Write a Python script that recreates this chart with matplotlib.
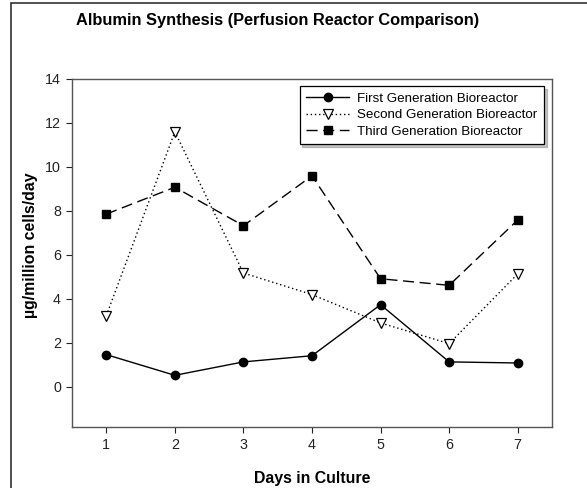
import matplotlib
matplotlib.use('Agg')
import matplotlib.pyplot as plt
from matplotlib.patches import Rectangle

plt.rcParams['font.family'] = ['Liberation Sans', 'DejaVu Sans']

days = [1, 2, 3, 4, 5, 6, 7]
first_gen = [1.47, 0.53, 1.14, 1.42, 3.74, 1.14, 1.09]
second_gen = [3.24, 11.6, 5.18, 4.2, 2.91, 1.97, 5.14]
third_gen = [7.86, 9.08, 7.33, 9.60, 4.92, 4.62, 7.59]
yticks = [0, 2, 4, 6, 8, 10, 12, 14]

fig = plt.figure(figsize=(5.87, 4.88), dpi=100)
ax = fig.add_axes([72/587, 1-427/488, 480/587, 348/488])

# outer frame of the original page, cut off on the right and bottom
fig.patches.append(Rectangle((11/587, -0.1), 2, (485/488)+0.1, transform=fig.transFigure,
                             fill=False, edgecolor='#333333', linewidth=1.2))

ax.plot(days, first_gen, color='black', linestyle='-', linewidth=1.0,
        marker='o', markersize=6, markerfacecolor='black', label='First Generation Bioreactor')
ax.plot(days, second_gen, color='black', linestyle=(0, (1, 2)), linewidth=1.0,
        marker='v', markersize=6.5, markerfacecolor='white', markeredgewidth=0.9,
        label='Second Generation Bioreactor')
ax.plot(days, third_gen, color='black', linestyle=(0, (8, 4)), linewidth=1.0,
        marker='s', markersize=5.5, markerfacecolor='black', label='Third Generation Bioreactor')

ax.set_xlim(0.5, 7.5)
ax.set_ylim(-1.82, 14)
ax.set_xticks(days)
ax.set_yticks(yticks)
ax.tick_params(direction='out', length=4, width=0.8, labelsize=10.3, colors='#222222', pad=4)
for s in ax.spines.values():
    s.set_color('#555555')
    s.set_linewidth(1.0)

ax.set_xlabel('Days in Culture', fontsize=11.4, fontweight='bold')
ax.set_ylabel('µg/million cells/day', fontsize=11.4, fontweight='bold')
ax.xaxis.set_label_coords(0.5, -0.125)
ax.yaxis.set_label_coords(-0.071, 0.523)
fig.text(278/587, 1-20/488, 'Albumin Synthesis (Perfusion Reactor Comparison)',
         ha='center', va='center', fontsize=11.8, fontweight='bold')

leg = ax.legend(loc='upper right', bbox_to_anchor=(0.983, 0.980), borderaxespad=0,
                fontsize=9.6, fancybox=False, shadow={'color': '#888888'}, framealpha=1,
                handlelength=3.2, handletextpad=0.6, labelspacing=0.3, borderpad=0.5)
leg.get_frame().set_edgecolor('black')
leg.get_frame().set_linewidth(0.9)

fig.savefig('out.png', dpi=100)
